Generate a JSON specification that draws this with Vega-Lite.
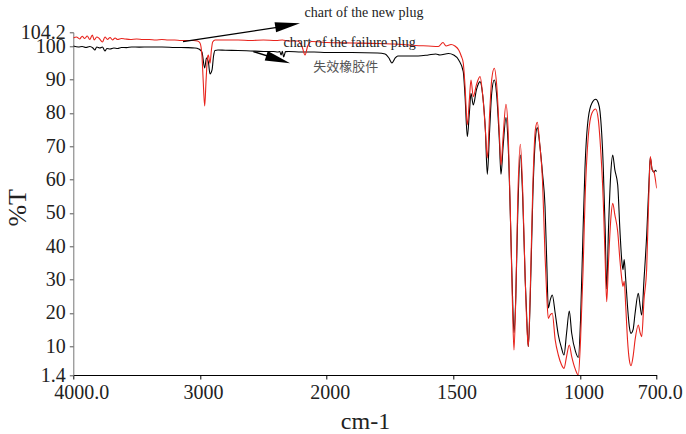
{
  "$schema": "https://vega.github.io/schema/vega-lite/v6.json",
  "width": 583.4,
  "height": 342.7,
  "autosize": {"type": "none"},
  "padding": {"left": 73.3, "top": 32.3, "right": 29.3, "bottom": 59},
  "background": "white",
  "config": {
    "view": {"stroke": null},
    "font": "Liberation Serif"
  },
  "data": {
    "values": [
      {"p": "failure", "wn": 4000, "t": 100.1}, {"p": "failure", "wn": 3960, "t": 99.8}, {"p": "failure", "wn": 3930, "t": 99.95},
      {"p": "failure", "wn": 3900, "t": 99.65}, {"p": "failure", "wn": 3870, "t": 99.95}, {"p": "failure", "wn": 3845, "t": 99.5},
      {"p": "failure", "wn": 3830, "t": 98.9}, {"p": "failure", "wn": 3815, "t": 99.8}, {"p": "failure", "wn": 3790, "t": 99.5},
      {"p": "failure", "wn": 3770, "t": 99.8}, {"p": "failure", "wn": 3750, "t": 98.6}, {"p": "failure", "wn": 3735, "t": 99.35},
      {"p": "failure", "wn": 3710, "t": 99.2}, {"p": "failure", "wn": 3680, "t": 99.5}, {"p": "failure", "wn": 3650, "t": 99.35},
      {"p": "failure", "wn": 3620, "t": 99.65}, {"p": "failure", "wn": 3580, "t": 99.6}, {"p": "failure", "wn": 3540, "t": 99.8},
      {"p": "failure", "wn": 3480, "t": 99.75}, {"p": "failure", "wn": 3400, "t": 99.8}, {"p": "failure", "wn": 3300, "t": 99.8},
      {"p": "failure", "wn": 3200, "t": 99.65}, {"p": "failure", "wn": 3100, "t": 99.6}, {"p": "failure", "wn": 3040, "t": 99.5},
      {"p": "failure", "wn": 3010, "t": 99.2}, {"p": "failure", "wn": 2985, "t": 98.3}, {"p": "failure", "wn": 2963, "t": 93.5},
      {"p": "failure", "wn": 2949, "t": 96.5}, {"p": "failure", "wn": 2934, "t": 95.3}, {"p": "failure", "wn": 2921, "t": 91.7},
      {"p": "failure", "wn": 2905, "t": 92.9}, {"p": "failure", "wn": 2893, "t": 97.1}, {"p": "failure", "wn": 2882, "t": 98.75},
      {"p": "failure", "wn": 2858, "t": 98.9}, {"p": "failure", "wn": 2800, "t": 98.8}, {"p": "failure", "wn": 2700, "t": 98.75},
      {"p": "failure", "wn": 2600, "t": 98.6}, {"p": "failure", "wn": 2500, "t": 98.45}, {"p": "failure", "wn": 2420, "t": 98.45},
      {"p": "failure", "wn": 2384, "t": 98.3}, {"p": "failure", "wn": 2370, "t": 98.4}, {"p": "failure", "wn": 2360, "t": 97.4},
      {"p": "failure", "wn": 2350, "t": 98.5}, {"p": "failure", "wn": 2340, "t": 96.8}, {"p": "failure", "wn": 2325, "t": 98.4},
      {"p": "failure", "wn": 2300, "t": 98.45}, {"p": "failure", "wn": 2200, "t": 98.3}, {"p": "failure", "wn": 2100, "t": 98.3},
      {"p": "failure", "wn": 2000, "t": 98.15}, {"p": "failure", "wn": 1900, "t": 98.15}, {"p": "failure", "wn": 1800, "t": 98.0},
      {"p": "failure", "wn": 1770, "t": 97.7}, {"p": "failure", "wn": 1755, "t": 96.5}, {"p": "failure", "wn": 1743, "t": 95.0},
      {"p": "failure", "wn": 1730, "t": 96.5}, {"p": "failure", "wn": 1720, "t": 97.1}, {"p": "failure", "wn": 1680, "t": 97.1},
      {"p": "failure", "wn": 1640, "t": 97.1}, {"p": "failure", "wn": 1600, "t": 97.4}, {"p": "failure", "wn": 1570, "t": 97.7},
      {"p": "failure", "wn": 1554, "t": 97.4}, {"p": "failure", "wn": 1520, "t": 97.85}, {"p": "failure", "wn": 1500, "t": 97.4},
      {"p": "failure", "wn": 1480, "t": 95.9}, {"p": "failure", "wn": 1462, "t": 92.4}, {"p": "failure", "wn": 1455, "t": 85},
      {"p": "failure", "wn": 1446, "t": 72.9}, {"p": "failure", "wn": 1438, "t": 80}, {"p": "failure", "wn": 1431.6, "t": 85.9},
      {"p": "failure", "wn": 1422.5, "t": 82.4}, {"p": "failure", "wn": 1410, "t": 87}, {"p": "failure", "wn": 1396, "t": 89.4},
      {"p": "failure", "wn": 1385, "t": 85}, {"p": "failure", "wn": 1375, "t": 75}, {"p": "failure", "wn": 1367.3, "t": 61.6},
      {"p": "failure", "wn": 1358, "t": 75}, {"p": "failure", "wn": 1350, "t": 86}, {"p": "failure", "wn": 1339.8, "t": 89.9},
      {"p": "failure", "wn": 1330, "t": 85}, {"p": "failure", "wn": 1320, "t": 72}, {"p": "failure", "wn": 1313.4, "t": 61.6},
      {"p": "failure", "wn": 1305, "t": 70}, {"p": "failure", "wn": 1293.7, "t": 78.6}, {"p": "failure", "wn": 1285, "t": 70},
      {"p": "failure", "wn": 1275, "t": 45}, {"p": "failure", "wn": 1268, "t": 25}, {"p": "failure", "wn": 1262.2, "t": 14.1},
      {"p": "failure", "wn": 1255, "t": 25}, {"p": "failure", "wn": 1248, "t": 48}, {"p": "failure", "wn": 1237.3, "t": 67.4},
      {"p": "failure", "wn": 1228, "t": 55}, {"p": "failure", "wn": 1218, "t": 30}, {"p": "failure", "wn": 1210, "t": 15},
      {"p": "failure", "wn": 1205.8, "t": 9.9}, {"p": "failure", "wn": 1198, "t": 25}, {"p": "failure", "wn": 1188, "t": 55},
      {"p": "failure", "wn": 1178, "t": 72}, {"p": "failure", "wn": 1170.4, "t": 75.6}, {"p": "failure", "wn": 1160, "t": 70},
      {"p": "failure", "wn": 1150, "t": 62}, {"p": "failure", "wn": 1140, "t": 52}, {"p": "failure", "wn": 1133, "t": 35},
      {"p": "failure", "wn": 1127, "t": 21.5}, {"p": "failure", "wn": 1119, "t": 24}, {"p": "failure", "wn": 1111.3, "t": 25.4},
      {"p": "failure", "wn": 1100, "t": 20}, {"p": "failure", "wn": 1087.6, "t": 13.4}, {"p": "failure", "wn": 1075, "t": 9.5},
      {"p": "failure", "wn": 1065.2, "t": 7.4}, {"p": "failure", "wn": 1055, "t": 14}, {"p": "failure", "wn": 1044.3, "t": 20.6},
      {"p": "failure", "wn": 1035, "t": 14}, {"p": "failure", "wn": 1020, "t": 8.5}, {"p": "failure", "wn": 1008.8, "t": 6.7},
      {"p": "failure", "wn": 1000, "t": 18}, {"p": "failure", "wn": 990, "t": 45}, {"p": "failure", "wn": 982.5, "t": 63.5},
      {"p": "failure", "wn": 969.5, "t": 78.5}, {"p": "failure", "wn": 955, "t": 83}, {"p": "failure", "wn": 940.3, "t": 84.1},
      {"p": "failure", "wn": 930, "t": 83}, {"p": "failure", "wn": 923.3, "t": 80.4}, {"p": "failure", "wn": 910.4, "t": 63.5},
      {"p": "failure", "wn": 903, "t": 45}, {"p": "failure", "wn": 897, "t": 27.2}, {"p": "failure", "wn": 890, "t": 45},
      {"p": "failure", "wn": 880, "t": 63}, {"p": "failure", "wn": 873.3, "t": 67.4}, {"p": "failure", "wn": 865, "t": 63},
      {"p": "failure", "wn": 853.6, "t": 58.4}, {"p": "failure", "wn": 845, "t": 45}, {"p": "failure", "wn": 837.9, "t": 36},
      {"p": "failure", "wn": 833, "t": 33}, {"p": "failure", "wn": 828, "t": 36}, {"p": "failure", "wn": 822, "t": 30},
      {"p": "failure", "wn": 815, "t": 22}, {"p": "failure", "wn": 808, "t": 16}, {"p": "failure", "wn": 801.2, "t": 13.9},
      {"p": "failure", "wn": 793, "t": 15}, {"p": "failure", "wn": 785, "t": 20}, {"p": "failure", "wn": 772.5, "t": 25.9},
      {"p": "failure", "wn": 765, "t": 22}, {"p": "failure", "wn": 759.1, "t": 19.4}, {"p": "failure", "wn": 750, "t": 30},
      {"p": "failure", "wn": 739.4, "t": 43.4}, {"p": "failure", "wn": 730, "t": 60}, {"p": "failure", "wn": 725.2, "t": 66.6},
      {"p": "failure", "wn": 718, "t": 63}, {"p": "failure", "wn": 710.6, "t": 62.2}, {"p": "failure", "wn": 705, "t": 62.8},
      {"p": "failure", "wn": 700, "t": 62.4},

      {"p": "new", "wn": 4000, "t": 102.5}, {"p": "new", "wn": 3975, "t": 102.8}, {"p": "new", "wn": 3950, "t": 102.2},
      {"p": "new", "wn": 3930, "t": 103}, {"p": "new", "wn": 3910, "t": 102.35}, {"p": "new", "wn": 3890, "t": 103.1},
      {"p": "new", "wn": 3870, "t": 102.05}, {"p": "new", "wn": 3850, "t": 103.4}, {"p": "new", "wn": 3835, "t": 101.9},
      {"p": "new", "wn": 3815, "t": 102.8}, {"p": "new", "wn": 3795, "t": 102.35}, {"p": "new", "wn": 3770, "t": 101.3},
      {"p": "new", "wn": 3750, "t": 102.8}, {"p": "new", "wn": 3730, "t": 102.05}, {"p": "new", "wn": 3710, "t": 102.65},
      {"p": "new", "wn": 3690, "t": 101.9}, {"p": "new", "wn": 3670, "t": 102.5}, {"p": "new", "wn": 3650, "t": 102.05},
      {"p": "new", "wn": 3620, "t": 102.35}, {"p": "new", "wn": 3590, "t": 102.2}, {"p": "new", "wn": 3550, "t": 102.05},
      {"p": "new", "wn": 3500, "t": 102.2}, {"p": "new", "wn": 3450, "t": 102.05}, {"p": "new", "wn": 3400, "t": 102.05},
      {"p": "new", "wn": 3350, "t": 101.9}, {"p": "new", "wn": 3300, "t": 102.05}, {"p": "new", "wn": 3250, "t": 101.9},
      {"p": "new", "wn": 3200, "t": 101.9}, {"p": "new", "wn": 3150, "t": 101.75}, {"p": "new", "wn": 3100, "t": 101.75},
      {"p": "new", "wn": 3050, "t": 101.75}, {"p": "new", "wn": 3020, "t": 101.6}, {"p": "new", "wn": 3000, "t": 101},
      {"p": "new", "wn": 2985, "t": 97.4}, {"p": "new", "wn": 2975, "t": 89.9}, {"p": "new", "wn": 2963, "t": 82.1},
      {"p": "new", "wn": 2952, "t": 89.9}, {"p": "new", "wn": 2940, "t": 96.8}, {"p": "new", "wn": 2934, "t": 97.4},
      {"p": "new", "wn": 2921, "t": 94.9}, {"p": "new", "wn": 2910, "t": 98.9}, {"p": "new", "wn": 2900, "t": 101.3},
      {"p": "new", "wn": 2880, "t": 101.9}, {"p": "new", "wn": 2850, "t": 101.9}, {"p": "new", "wn": 2800, "t": 101.9},
      {"p": "new", "wn": 2700, "t": 101.9}, {"p": "new", "wn": 2600, "t": 101.75}, {"p": "new", "wn": 2500, "t": 101.9},
      {"p": "new", "wn": 2400, "t": 101.75}, {"p": "new", "wn": 2350, "t": 101.9}, {"p": "new", "wn": 2300, "t": 101.6},
      {"p": "new", "wn": 2230, "t": 101.6}, {"p": "new", "wn": 2196, "t": 100.1}, {"p": "new", "wn": 2171, "t": 97.4},
      {"p": "new", "wn": 2150, "t": 100.1}, {"p": "new", "wn": 2120, "t": 101.45}, {"p": "new", "wn": 2050, "t": 101.3},
      {"p": "new", "wn": 2000, "t": 101.15}, {"p": "new", "wn": 1900, "t": 101}, {"p": "new", "wn": 1800, "t": 100.85},
      {"p": "new", "wn": 1743, "t": 100.7}, {"p": "new", "wn": 1700, "t": 100.55}, {"p": "new", "wn": 1650, "t": 100.25},
      {"p": "new", "wn": 1600, "t": 100.1}, {"p": "new", "wn": 1560, "t": 99.95}, {"p": "new", "wn": 1542, "t": 101.15},
      {"p": "new", "wn": 1530, "t": 100.1}, {"p": "new", "wn": 1510, "t": 100.55}, {"p": "new", "wn": 1495, "t": 100.1},
      {"p": "new", "wn": 1480, "t": 98.9}, {"p": "new", "wn": 1470, "t": 97.1}, {"p": "new", "wn": 1462, "t": 95},
      {"p": "new", "wn": 1455, "t": 88}, {"p": "new", "wn": 1446, "t": 76.4}, {"p": "new", "wn": 1438, "t": 84},
      {"p": "new", "wn": 1431.6, "t": 89.9}, {"p": "new", "wn": 1422.5, "t": 84.9}, {"p": "new", "wn": 1410, "t": 88.5},
      {"p": "new", "wn": 1396, "t": 90.9}, {"p": "new", "wn": 1385, "t": 85}, {"p": "new", "wn": 1375, "t": 75},
      {"p": "new", "wn": 1367.3, "t": 66.5}, {"p": "new", "wn": 1358, "t": 80}, {"p": "new", "wn": 1350, "t": 90},
      {"p": "new", "wn": 1339.8, "t": 93.4}, {"p": "new", "wn": 1330, "t": 88}, {"p": "new", "wn": 1320, "t": 74},
      {"p": "new", "wn": 1313.4, "t": 64.4}, {"p": "new", "wn": 1305, "t": 73}, {"p": "new", "wn": 1293.7, "t": 82.6},
      {"p": "new", "wn": 1285, "t": 74}, {"p": "new", "wn": 1275, "t": 45}, {"p": "new", "wn": 1268, "t": 22},
      {"p": "new", "wn": 1262.2, "t": 8.9}, {"p": "new", "wn": 1255, "t": 25}, {"p": "new", "wn": 1247, "t": 55},
      {"p": "new", "wn": 1237.3, "t": 70.6}, {"p": "new", "wn": 1228, "t": 57}, {"p": "new", "wn": 1218, "t": 30},
      {"p": "new", "wn": 1210, "t": 14}, {"p": "new", "wn": 1205.8, "t": 9.9}, {"p": "new", "wn": 1198, "t": 27},
      {"p": "new", "wn": 1188, "t": 58}, {"p": "new", "wn": 1178, "t": 75}, {"p": "new", "wn": 1170.4, "t": 77.2},
      {"p": "new", "wn": 1160, "t": 70}, {"p": "new", "wn": 1150, "t": 60}, {"p": "new", "wn": 1140, "t": 37.4},
      {"p": "new", "wn": 1133, "t": 25}, {"p": "new", "wn": 1127, "t": 18.4}, {"p": "new", "wn": 1119, "t": 19.5},
      {"p": "new", "wn": 1111.3, "t": 19.9}, {"p": "new", "wn": 1100, "t": 12}, {"p": "new", "wn": 1087.6, "t": 7.4},
      {"p": "new", "wn": 1075, "t": 4.5}, {"p": "new", "wn": 1065.2, "t": 3.4}, {"p": "new", "wn": 1055, "t": 7},
      {"p": "new", "wn": 1044.3, "t": 10.4}, {"p": "new", "wn": 1035, "t": 7}, {"p": "new", "wn": 1020, "t": 3},
      {"p": "new", "wn": 1008.8, "t": 1.4}, {"p": "new", "wn": 1000, "t": 12}, {"p": "new", "wn": 990, "t": 33},
      {"p": "new", "wn": 982.5, "t": 53.4}, {"p": "new", "wn": 969.5, "t": 73}, {"p": "new", "wn": 955, "t": 80},
      {"p": "new", "wn": 940.3, "t": 81.2}, {"p": "new", "wn": 930, "t": 78}, {"p": "new", "wn": 923.3, "t": 72},
      {"p": "new", "wn": 910.4, "t": 53.4}, {"p": "new", "wn": 903, "t": 36}, {"p": "new", "wn": 897, "t": 23.4},
      {"p": "new", "wn": 890, "t": 35}, {"p": "new", "wn": 880, "t": 49}, {"p": "new", "wn": 873.3, "t": 52.9},
      {"p": "new", "wn": 865, "t": 49.5}, {"p": "new", "wn": 853.6, "t": 44.4}, {"p": "new", "wn": 845, "t": 36},
      {"p": "new", "wn": 837.9, "t": 30.4}, {"p": "new", "wn": 833, "t": 28}, {"p": "new", "wn": 828, "t": 29.5},
      {"p": "new", "wn": 822, "t": 22}, {"p": "new", "wn": 815, "t": 12}, {"p": "new", "wn": 808, "t": 6},
      {"p": "new", "wn": 801.2, "t": 4.2}, {"p": "new", "wn": 793, "t": 7}, {"p": "new", "wn": 785, "t": 12},
      {"p": "new", "wn": 772.5, "t": 16.4}, {"p": "new", "wn": 765, "t": 14}, {"p": "new", "wn": 759.1, "t": 12.9},
      {"p": "new", "wn": 750, "t": 24}, {"p": "new", "wn": 739.4, "t": 33.5}, {"p": "new", "wn": 730, "t": 58},
      {"p": "new", "wn": 725.2, "t": 66.9}, {"p": "new", "wn": 718, "t": 63}, {"p": "new", "wn": 710.6, "t": 62.3},
      {"p": "new", "wn": 705, "t": 60}, {"p": "new", "wn": 700, "t": 57.4}
    ]
  },
  "encoding": {
    "x": {
      "field": "wn",
      "type": "quantitative",
      "scale": {"domain": [4000, 2000, 700], "range": [0, 253.4, 583.4], "zero": false, "nice": false},
      "axis": {
        "title": "cm-1",
        "values": [4000, 3000, 2000, 1500, 1000, 700],
        "labelExpr": "datum.value == 4000 ? '4000.0' : datum.value == 700 ? '700.0' : datum.label",
        "format": "d",
        "grid": false,
        "labelFlush": false,
        "labelOverlap": false,
        "labelFont": "Liberation Serif",
        "labelFontSize": 20,
        "labelColor": "#222",
        "labelOffset": {"condition": {"test": "datum.value == 4000", "value": 8}, "value": 3},
        "labelPadding": 3,
        "tickSize": 4,
        "tickColor": "#000",
        "domainColor": "#000",
        "titleFont": "Liberation Serif",
        "titleFontSize": 24,
        "titleFontWeight": "normal",
        "titleColor": "#222",
        "titlePadding": 7
      }
    },
    "y": {
      "field": "t",
      "type": "quantitative",
      "scale": {"domain": [1.4, 104.2], "zero": false, "nice": false},
      "axis": {
        "title": "%T",
        "values": [1.4, 10, 20, 30, 40, 50, 60, 70, 80, 90, 100, 104.2],
        "labelExpr": "datum.value == 1.4 ? '1.4' : datum.value == 104.2 ? '104.2' : format(datum.value, 'd')",
        "grid": false,
        "labelFlush": false,
        "labelOverlap": false,
        "labelFont": "Liberation Serif",
        "labelFontSize": 20,
        "labelColor": "#222",
        "labelPadding": 4,
        "tickSize": 4,
        "tickColor": "#555",
        "domainColor": "#777",
        "titleFont": "Liberation Serif",
        "titleFontSize": 26,
        "titleFontWeight": "normal",
        "titleColor": "#222",
        "titleX": -56,
        "titleY": 175,
        "titleAlign": "center",
        "titleBaseline": "middle"
      }
    }
  },
  "layer": [
    {
      "mark": {"type": "line", "interpolate": "monotone", "strokeWidth": 1.1, "clip": true},
      "encoding": {
        "color": {
          "field": "p",
          "type": "nominal",
          "scale": {"domain": ["new", "failure"], "range": ["#e8231c", "#000000"]},
          "legend": null
        },
        "order": {"field": "wn", "sort": "descending"}
      }
    },
    {
      "data": {"values": [
        {"arrow": "new", "wn": 3134, "t": 101.4},
        {"arrow": "new", "wn": 2300, "t": 106.2},
        {"arrow": "failure", "wn": 2579, "t": 98.4},
        {"arrow": "failure", "wn": 2390, "t": 96.2}
      ]},
      "mark": {"type": "line", "color": "#000", "strokeWidth": 1.4},
      "encoding": {
        "detail": {"field": "arrow", "type": "nominal"},
        "color": {"value": "#000"}
      }
    },
    {
      "data": {"values": [{"wn": 2308, "t": 106.3}]},
      "mark": {"type": "point", "shape": "M1,0L-1,-0.4L-1,0.4Z", "size": 625, "angle": -8.9, "filled": true, "color": "#000", "opacity": 1}
    },
    {
      "data": {"values": [{"wn": 2383, "t": 96.05}]},
      "mark": {"type": "point", "shape": "M1,0L-1,-0.4L-1,0.4Z", "size": 625, "angle": 17.5, "filled": true, "color": "#000", "opacity": 1}
    },
    {
      "data": {"values": [
        {"wn": 1853, "t": 109.9, "label": "chart of the new plug"},
        {"wn": 1910, "t": 100.9, "label": "chart of  the failure plug"}
      ]},
      "mark": {"type": "text", "font": "Liberation Serif", "fontSize": 14, "color": "#222", "align": "center", "baseline": "middle"},
      "encoding": {"text": {"field": "label"}}
    },
    {
      "data": {"values": [{"wn": 1925, "t": 93.9, "label": "失效橡胶件"}]},
      "mark": {"type": "text", "font": "Noto Sans CJK SC", "fontSize": 13, "color": "#555", "align": "center", "baseline": "middle"},
      "encoding": {"text": {"field": "label"}}
    }
  ]
}
